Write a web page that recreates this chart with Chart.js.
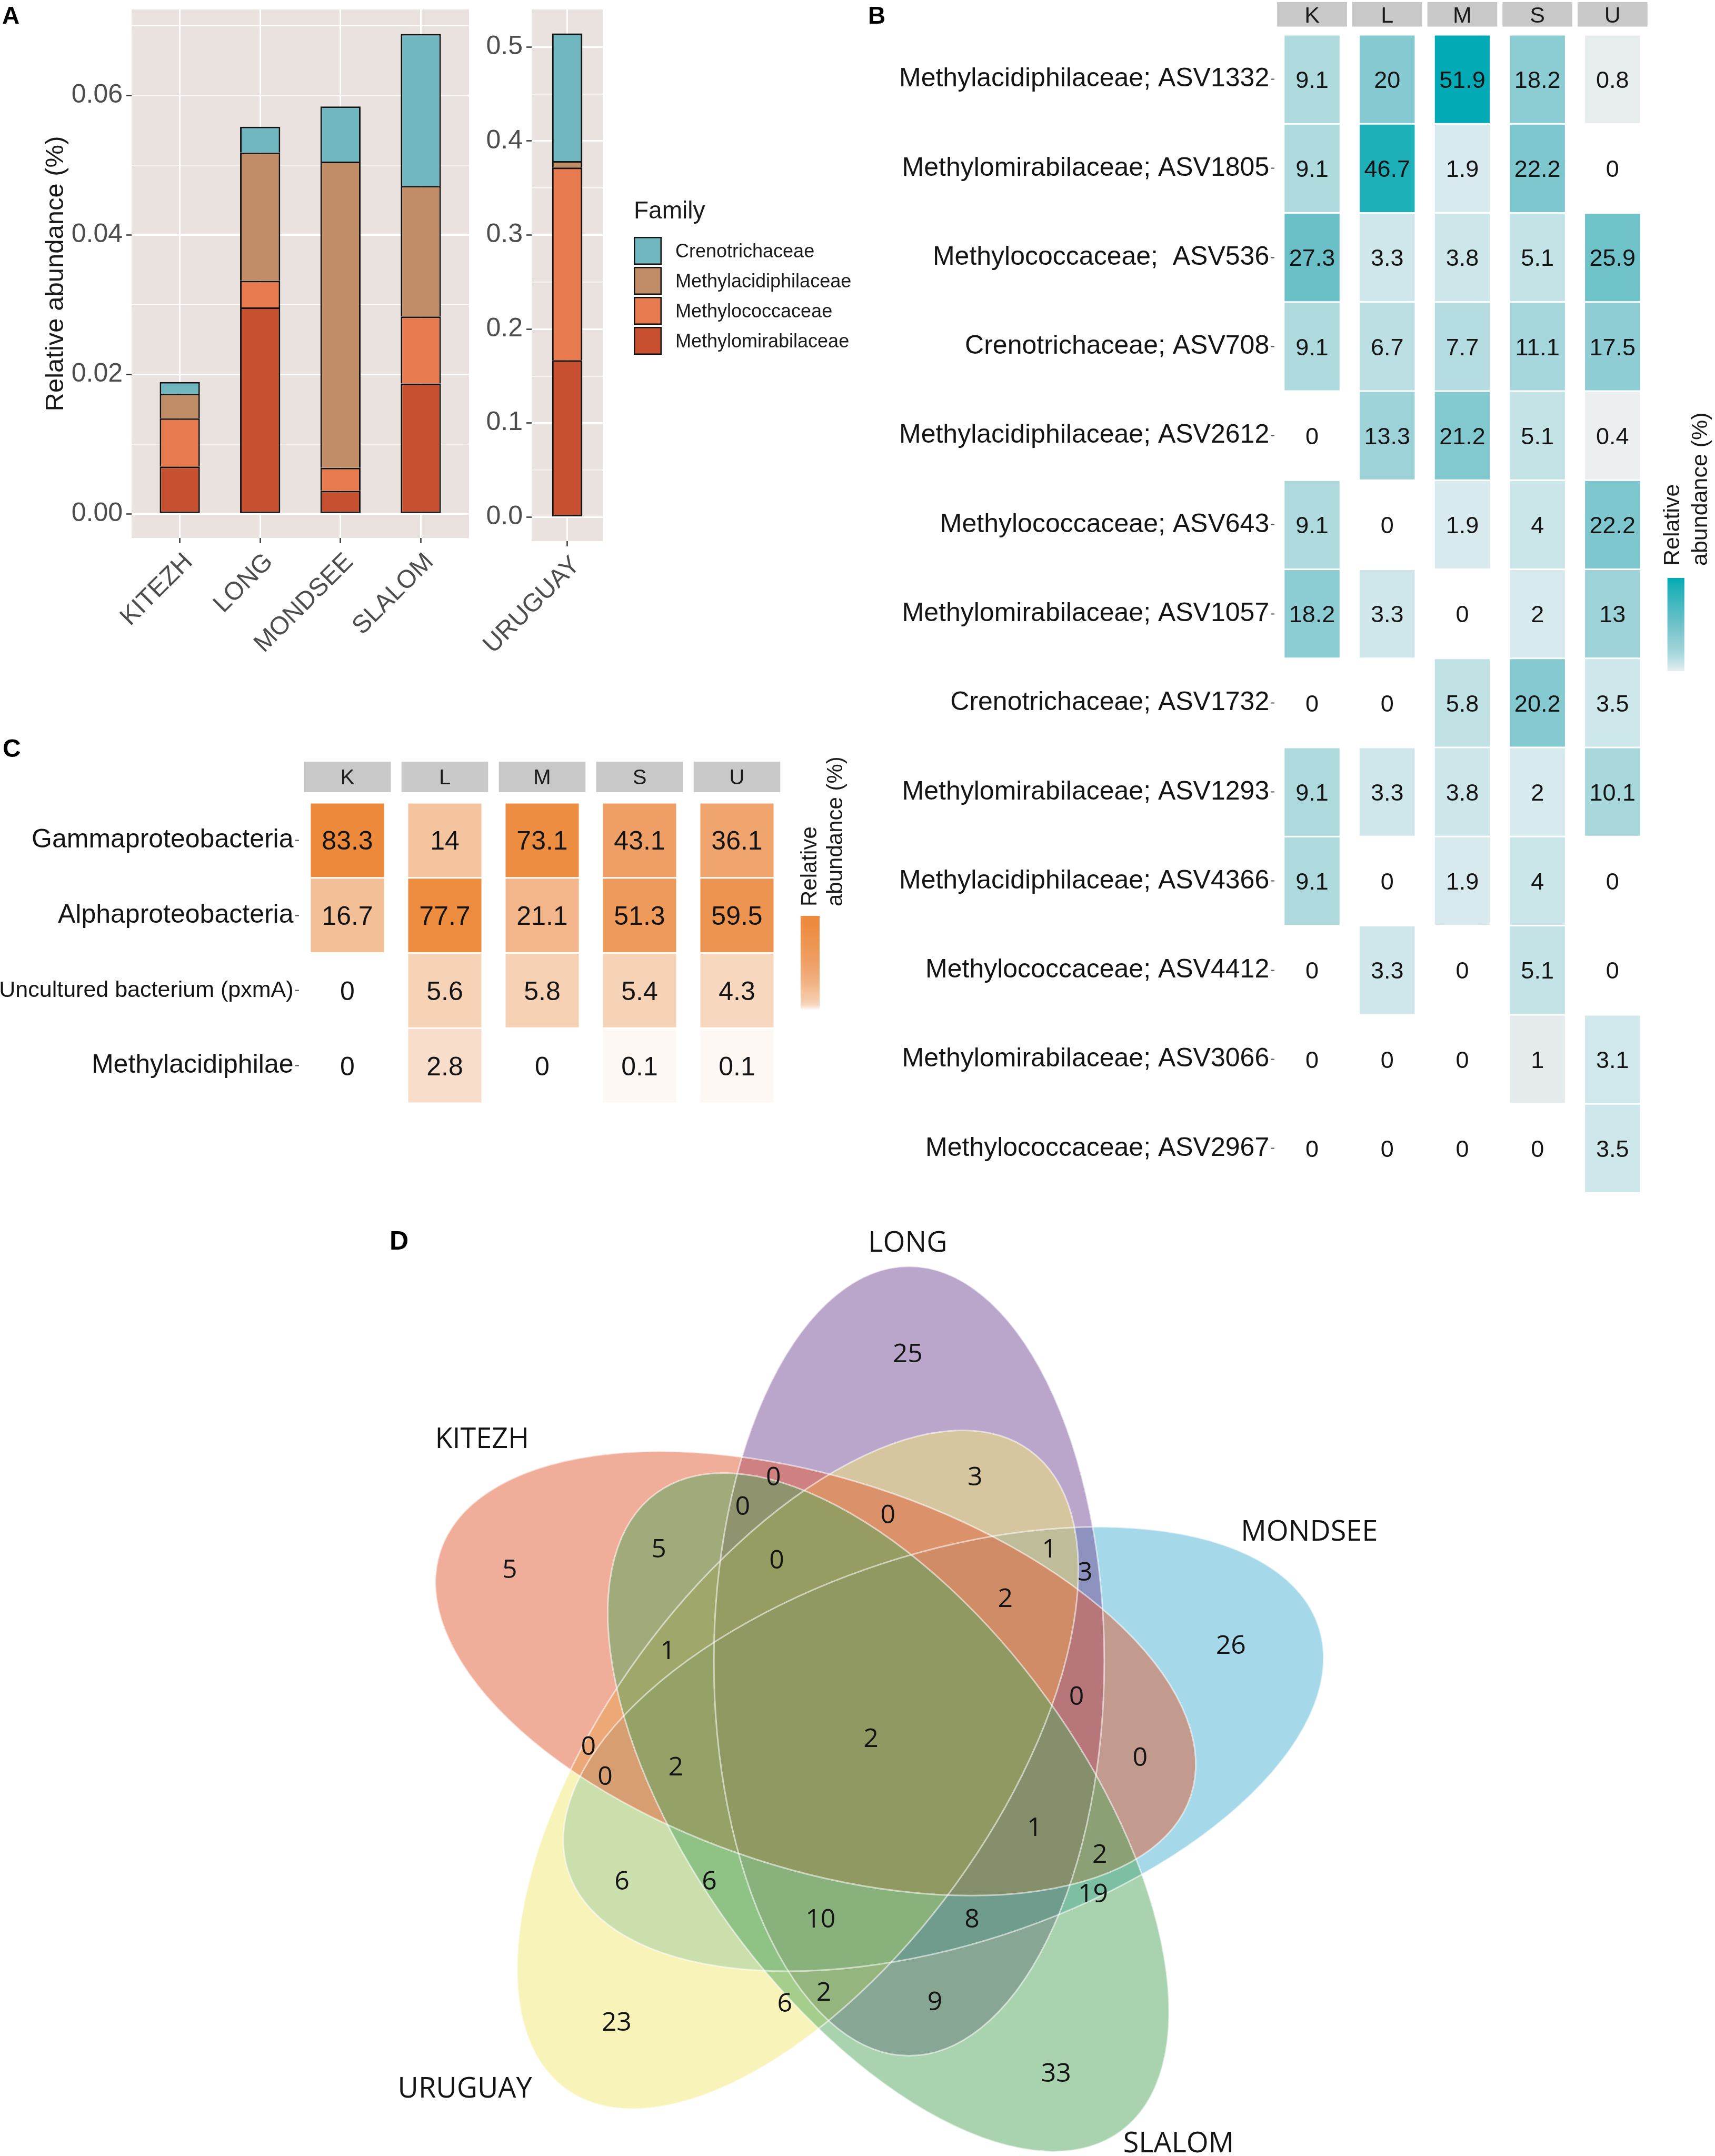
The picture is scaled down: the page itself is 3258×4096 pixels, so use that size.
<!DOCTYPE html>
<html>
<head>
<meta charset="utf-8">
<title>Methanotroph communities in five lakes</title>
<script src="https://cdn.jsdelivr.net/npm/chart.js@4.4.1/dist/chart.umd.min.js"></script>
<style>
  html, body { margin: 0; padding: 0; background: #ffffff; }
  body { position: relative; width: 3258px; height: 4096px; overflow: hidden; }
  canvas { position: absolute; }
</style>
</head>
<body>
<canvas id="barsMain" width="900" height="1290" style="left:0px;top:0px"></canvas>
<canvas id="barsUruguay" width="740" height="1290" style="left:900px;top:0px"></canvas>
<canvas id="heatAsv" width="1658" height="2300" style="left:1600px;top:0px"></canvas>
<canvas id="heatClass" width="1650" height="760" style="left:0px;top:1380px"></canvas>
<canvas id="venn" width="3258" height="1797" style="left:0px;top:2299px"></canvas>
<script>
const FONT = '"Liberation Sans", Arial, Helvetica, sans-serif';
const VENN_FONT = '"Open Sans", "Noto Sans", sans-serif';

// --- Panel A: relative abundance of methanotroph families per lake ---
const sites = ['KITEZH', 'LONG', 'MONDSEE', 'SLALOM', 'URUGUAY'];
const families = ['Crenotrichaceae', 'Methylacidiphilaceae', 'Methylococcaceae', 'Methylomirabilaceae'];
const crenotrichaceae = [0.0017, 0.0037, 0.0079, 0.0218, 0.1358];
const methylacidiphilaceae = [0.0035, 0.0184, 0.0439, 0.0187, 0.0069];
const methylococcaceae = [0.0069, 0.0038, 0.0033, 0.0096, 0.2049];
const methylomirabilaceae = [0.0068, 0.0296, 0.0033, 0.0187, 0.1667];
const lakeTicks = [0, 0.02, 0.04, 0.06];
const lakeTickLabels = ['0.00', '0.02', '0.04', '0.06'];
const uruguayTicks = [0, 0.1, 0.2, 0.3, 0.4, 0.5];
const uruguayTickLabels = ['0.0', '0.1', '0.2', '0.3', '0.4', '0.5'];

// --- Panel B: top ASVs, % per lake ---
const lakeCodes = ['K', 'L', 'M', 'S', 'U'];
const asvNames = [
  'Methylacidiphilaceae; ASV1332',
  'Methylomirabilaceae; ASV1805',
  'Methylococcaceae;  ASV536',
  'Crenotrichaceae; ASV708',
  'Methylacidiphilaceae; ASV2612',
  'Methylococcaceae; ASV643',
  'Methylomirabilaceae; ASV1057',
  'Crenotrichaceae; ASV1732',
  'Methylomirabilaceae; ASV1293',
  'Methylacidiphilaceae; ASV4366',
  'Methylococcaceae; ASV4412',
  'Methylomirabilaceae; ASV3066',
  'Methylococcaceae; ASV2967'
];
const asvAbundance = [
  [9.1, 20, 51.9, 18.2, 0.8],
  [9.1, 46.7, 1.9, 22.2, 0],
  [27.3, 3.3, 3.8, 5.1, 25.9],
  [9.1, 6.7, 7.7, 11.1, 17.5],
  [0, 13.3, 21.2, 5.1, 0.4],
  [9.1, 0, 1.9, 4, 22.2],
  [18.2, 3.3, 0, 2, 13],
  [0, 0, 5.8, 20.2, 3.5],
  [9.1, 3.3, 3.8, 2, 10.1],
  [9.1, 0, 1.9, 4, 0],
  [0, 3.3, 0, 5.1, 0],
  [0, 0, 0, 1, 3.1],
  [0, 0, 0, 0, 3.5]
];

// --- Panel C: pmoA classes, % per lake ---
const classNames = ['Gammaproteobacteria', 'Alphaproteobacteria', 'Uncultured bacterium (pxmA)', 'Methylacidiphilae'];
const classAbundance = [
  [83.3, 14, 73.1, 43.1, 36.1],
  [16.7, 77.7, 21.1, 51.3, 59.5],
  [0, 5.6, 5.8, 5.4, 4.3],
  [0, 2.8, 0, 0.1, 0.1]
];

// --- Panel D: shared ASVs (Venn region counts) ---
const vennSets = ['KITEZH', 'LONG', 'MONDSEE', 'SLALOM', 'URUGUAY'];
const vennCounts = [25, 0, 3, 0, 0, 5, 5, 0, 1, 3, 2, 26, 1, 0, 2, 0, 0, 2, 0, 1, 2, 6, 6, 19, 10, 8, 2, 6, 9, 23, 33];

// --- styling / layout ---
const familyColors = {
  Crenotrichaceae: '#71b7bf',
  Methylacidiphilaceae: '#c18d66',
  Methylococcaceae: '#e87a50',
  Methylomirabilaceae: '#c6502f'
};
const tealStops = [[0, '#f1f2f3'], [1, '#e5eaec'], [2, '#d7eaed'], [4, '#cbe6e9'], [8, '#b3dce0'],
  [12, '#a0d4d9'], [20, '#86cad1'], [27, '#6cc0c8'], [47, '#1db0b8'], [52, '#00aab4']];
const orangeStops = [[0, '#ffffff'], [0.1, '#fef8f4'], [3, '#f8dcc7'], [6, '#f6d0b3'], [15, '#f4c29c'],
  [21, '#f2b68a'], [36, '#f0a46e'], [51, '#ee9a5a'], [60, '#ee9450'], [73, '#ed8d42'], [84, '#ec893a']];

// venn geometry in its own layout units (1 unit = 2.6127 px)
const vennAxes = { a: 287, b: 142 };
const vennShapes = {
  KITEZH:  { cx: 593, cy: 1217, angle: 162,  fill: 'rgba(225, 93, 53, 0.5)' },
  LONG:    { cx: 661, cy: 1208, angle: 90,   fill: 'rgba(119, 77, 151, 0.5)' },
  MONDSEE: { cx: 686, cy: 1272, angle: 18,   fill: 'rgba(75, 177, 209, 0.5)' },
  SLALOM:  { cx: 646, cy: 1318, angle: -54,  fill: 'rgba(83, 167, 93, 0.5)' },
  URUGUAY: { cx: 580, cy: 1287, angle: -126, fill: 'rgba(241, 231, 115, 0.5)' }
};
const vennDrawOrder = ['MONDSEE', 'LONG', 'URUGUAY', 'KITEZH', 'SLALOM'];
const vennNameSpots = { KITEZH: [350.5, 1045.6], LONG: [660, 903], MONDSEE: [952, 1113], SLALOM: [857, 1558], URUGUAY: [338, 1518] };
const vennSpots = [
  [660, 984], [562.4, 1073.5], [709, 1073.5], [540, 1095], [645.6, 1100.8], [479, 1126],
  [370.6, 1140.6], [564.8, 1133.8], [763, 1126], [789, 1142.8], [731, 1162], [895, 1196],
  [485.5, 1199.6], [782.7, 1233], [633.3, 1263.5], [427.8, 1269.3], [829, 1277.4], [491.4, 1284.3],
  [440, 1291.2], [752.2, 1328.2], [799.7, 1347.8], [452.2, 1367.4], [515.8, 1367.4], [794.8, 1376.7],
  [596.6, 1395.1], [706.8, 1395.1], [599, 1448.2], [570.6, 1456.3], [679.8, 1455.2], [448.3, 1470.2],
  [767.9, 1507.1]
];

Chart.defaults.font.family = FONT;
Chart.defaults.color = '#1a1a1a';

// --- helpers ---
function hexRgb(h) {
  const n = parseInt(h.slice(1), 16);
  return [(n >> 16) & 255, (n >> 8) & 255, n & 255];
}

function ramp(stops, v) {
  let i = 1;
  while (i < stops.length - 1 && v > stops[i][0]) i++;
  const [v0, c0] = stops[i - 1];
  const [v1, c1] = stops[i];
  const t = Math.max(0, Math.min(1, (v - v0) / (v1 - v0)));
  const a = hexRgb(c0), b = hexRgb(c1);
  return 'rgb(' + a.map((x, k) => Math.round(x + (b[k] - x) * t)).join(',') + ')';
}
const tealColor = v => ramp(tealStops, v);
const orangeColor = v => ramp(orangeStops, v);

// --- plugins ---
const panelTag = {
  id: 'panelTag',
  afterDraw(chart, args, o) {
    if (!o || !o.text) return;
    const ctx = chart.ctx;
    ctx.save();
    ctx.fillStyle = '#000000';
    ctx.font = 'bold ' + o.size + 'px ' + FONT;
    ctx.textAlign = 'left';
    ctx.textBaseline = 'alphabetic';
    ctx.fillText(o.text, o.x, o.y);
    ctx.restore();
  }
};
Chart.register(panelTag);

const panelBackground = {
  id: 'panelBackground',
  beforeDraw(chart) {
    const { ctx, chartArea: a } = chart;
    ctx.save();
    ctx.fillStyle = '#eae2de';
    ctx.fillRect(a.left, a.top, a.right - a.left, a.bottom - a.top);
    ctx.restore();
  }
};

function familyLegend(pos) {
  return {
    id: 'familyLegend',
    afterDraw(chart) {
      const ctx = chart.ctx;
      ctx.save();
      ctx.textAlign = 'left';
      ctx.textBaseline = 'alphabetic';
      ctx.fillStyle = '#1a1a1a';
      ctx.font = pos.titleSize + 'px ' + FONT;
      ctx.fillText('Family', pos.x, pos.titleBaseline);
      const items = chart.data.datasets.slice().reverse();
      items.forEach((ds, i) => {
        const y = pos.keyTop + i * pos.keyStep;
        ctx.fillStyle = ds.backgroundColor;
        ctx.fillRect(pos.x, y, pos.key, pos.key);
        ctx.strokeStyle = '#141414';
        ctx.lineWidth = 2.5;
        ctx.strokeRect(pos.x + 1.25, y + 1.25, pos.key - 2.5, pos.key - 2.5);
        ctx.fillStyle = '#1a1a1a';
        ctx.font = pos.labelSize + 'px ' + FONT;
        ctx.fillText(ds.label, pos.labelX, y + pos.key / 2 + 0.358 * pos.labelSize);
      });
      ctx.restore();
    }
  };
}

function stackedBars(canvasId, siteIdx, ticks, tickLabels, yMin, yMax, box) {
  const stackOrder = [
    [families[3], methylomirabilaceae],
    [families[2], methylococcaceae],
    [families[1], methylacidiphilaceae],
    [families[0], crenotrichaceae]
  ];
  const step = ticks[1] - ticks[0];
  const minor = ticks.map(v => v + step / 2).filter(v => v < yMax);
  const isMajor = v => ticks.some(t => Math.abs(t - v) < 1e-9);
  const majorLabel = v => {
    const i = ticks.findIndex(t => Math.abs(t - v) < 1e-9);
    return i < 0 ? '' : tickLabels[i];
  };

  return new Chart(document.getElementById(canvasId), {
    type: 'bar',
    data: {
      datasets: stackOrder.map(([name, values], k) => ({
        label: name,
        data: siteIdx.map((s, i) => ({ x: i + 1, y: values[s] })),
        backgroundColor: familyColors[name],
        borderColor: '#141414',
        borderWidth: { top: 3, left: 3, right: 3, bottom: k === 0 ? 3 : 0 },
        borderSkipped: false,
        categoryPercentage: 1,
        barPercentage: box.barPct,
        barThickness: box.barThickness
      }))
    },
    options: {
      responsive: false,
      animation: false,
      devicePixelRatio: 1,
      layout: { autoPadding: false, padding: { left: 0, right: box.right, top: box.top, bottom: 0 } },
      plugins: {
        legend: { display: false },
        tooltip: { enabled: false },
        panelTag: box.tag || false
      },
      scales: {
        x: {
          type: 'linear',
          stacked: true,
          offset: false,
          min: 0.4,
          max: siteIdx.length + 0.6,
          afterBuildTicks: s => { s.ticks = siteIdx.map((_, i) => ({ value: i + 1 })); },
          afterFit: s => {
            s.height = box.xHeight;
            // rotated labels may hang outside the panel; keep the panel where ggplot put it
            s.paddingLeft = 0;
            s.paddingRight = 0;
          },
          border: { display: false },
          grid: { offset: false, color: '#ffffff', lineWidth: 3, tickLength: 10, tickColor: '#333333', tickWidth: 2.5 },
          ticks: {
            autoSkip: false, minRotation: 45, maxRotation: 45, padding: 8, labelOffset: 17,
            color: '#4d4d4d', font: { size: 48 },
            callback: v => sites[siteIdx[v - 1]]
          }
        },
        y: {
          stacked: true,
          min: yMin,
          max: yMax,
          afterBuildTicks: s => { s.ticks = ticks.concat(minor).sort((a, b) => a - b).map(v => ({ value: v })); },
          afterFit: s => {
            s.width = box.yWidth;
            s.paddingTop = 0;
            s.paddingBottom = 0;
          },
          border: { display: false },
          grid: {
            color: '#ffffff',
            lineWidth: c => (c.tick && isMajor(c.tick.value) ? 3 : 1.5),
            tickLength: 10,
            tickWidth: 2.5,
            tickColor: c => (c.tick && isMajor(c.tick.value) ? '#333333' : 'rgba(0,0,0,0)')
          },
          ticks: { autoSkip: false, padding: 7, color: '#4d4d4d', font: { size: 50 }, callback: v => majorLabel(v) },
          title: box.title
            ? { display: true, text: box.title, color: '#1a1a1a', font: { size: 49, lineHeight: 1.2 }, padding: { top: 77, bottom: 0 } }
            : { display: false }
        }
      }
    },
    plugins: [panelBackground].concat(box.legend ? [familyLegend(box.legend)] : [])
  });
}

function heatDecor(values, colorFn, box) {
  return {
    id: 'heatDecor',
    afterDatasetsDraw(chart) {
      const { ctx, chartArea, scales: { x, y } } = chart;
      ctx.save();
      ctx.textAlign = 'center';
      ctx.textBaseline = 'alphabetic';

      // numbers in the cells
      ctx.fillStyle = '#141414';
      ctx.font = box.valueSize + 'px ' + FONT;
      values.forEach((row, r) => row.forEach((v, c) => {
        ctx.fillText(String(v), x.getPixelForValue(c), y.getPixelForValue(r) + 0.358 * box.valueSize);
      }));

      // facet strips
      const pitch = x.getPixelForValue(1) - x.getPixelForValue(0);
      const w = pitch * box.stripPct;
      const bottom = chartArea.top - box.stripGap;
      const top = bottom - box.stripHeight;
      ctx.font = box.stripSize + 'px ' + FONT;
      lakeCodes.forEach((code, c) => {
        const cx = x.getPixelForValue(c);
        ctx.fillStyle = '#c8c8c8';
        ctx.fillRect(cx - w / 2, top, w, box.stripHeight);
        ctx.fillStyle = '#1a1a1a';
        ctx.fillText(code, cx, (top + bottom) / 2 + 0.358 * box.stripSize);
      });

      // colour bar
      const cb = box.bar;
      const grad = ctx.createLinearGradient(0, cb.y, 0, cb.y + cb.h);
      for (let i = 0; i <= 20; i++) {
        const t = i / 20;
        grad.addColorStop(t, colorFn(cb.max - t * (cb.max - cb.min)));
      }
      ctx.fillStyle = grad;
      ctx.fillRect(cb.x, cb.y, cb.w, cb.h);

      ctx.fillStyle = '#1a1a1a';
      ctx.font = cb.size + 'px ' + FONT;
      ctx.textAlign = 'left';
      ctx.textBaseline = 'middle';
      ['Relative', 'abundance (%)'].forEach((line, i) => {
        ctx.save();
        ctx.translate(cb.titleX[i], cb.titleY);
        ctx.rotate(-Math.PI / 2);
        ctx.fillText(line, 0, 0);
        ctx.restore();
      });
      ctx.restore();
    }
  };
}

function heatmap(canvasId, rowNames, values, colorFn, box) {
  return new Chart(document.getElementById(canvasId), {
    type: 'bar',
    data: {
      labels: lakeCodes,
      datasets: values.map((row, r) => ({
        label: rowNames[r],
        data: row.map(v => (v > 0 ? [r - 0.5, r + 0.5] : null)),
        backgroundColor: row.map(colorFn),
        borderColor: '#ffffff',
        borderWidth: 1.5,
        borderSkipped: false,
        grouped: false,
        categoryPercentage: 1,
        barPercentage: box.cellPct
      }))
    },
    options: {
      responsive: false,
      animation: false,
      devicePixelRatio: 1,
      layout: { autoPadding: false, padding: { left: 0, right: box.right, top: box.top, bottom: box.bottom } },
      plugins: { legend: { display: false }, tooltip: { enabled: false }, panelTag: box.tag },
      scales: {
        x: { display: false },
        y: {
          type: 'linear',
          reverse: true,
          min: -0.5,
          max: rowNames.length - 0.5,
          afterBuildTicks: s => { s.ticks = rowNames.map((_, i) => ({ value: i })); },
          afterFit: s => {
            s.width = box.yWidth;
            s.paddingTop = 0;
            s.paddingBottom = 0;
          },
          border: { display: false },
          grid: { drawOnChartArea: false, tickLength: 7, tickWidth: 2, tickColor: '#4d4d4d' },
          ticks: {
            autoSkip: false,
            padding: 3,
            color: '#141414',
            font: c => ({ family: FONT, size: box.smallRows.includes(c.index) ? box.smallLabel : box.label }),
            callback: v => rowNames[v]
          }
        }
      }
    },
    plugins: [heatDecor(values, colorFn, box)]
  });
}

const vennDecor = {
  id: 'vennDecor',
  beforeDatasetsDraw(chart) {
    const { ctx, scales: { x, y } } = chart;
    const ux = Math.abs(x.getPixelForValue(1) - x.getPixelForValue(0));
    const uy = Math.abs(y.getPixelForValue(1) - y.getPixelForValue(0));
    ctx.save();
    vennDrawOrder.forEach(name => {
      const e = vennShapes[name];
      ctx.beginPath();
      ctx.ellipse(x.getPixelForValue(e.cx), y.getPixelForValue(e.cy), vennAxes.a * ux, vennAxes.b * uy,
        -e.angle * Math.PI / 180, 0, Math.PI * 2);
      ctx.fillStyle = e.fill;
      ctx.fill();
    });
    ctx.strokeStyle = 'rgba(255,255,255,0.55)';
    ctx.lineWidth = 3;
    vennDrawOrder.forEach(name => {
      const e = vennShapes[name];
      ctx.beginPath();
      ctx.ellipse(x.getPixelForValue(e.cx), y.getPixelForValue(e.cy), vennAxes.a * ux, vennAxes.b * uy,
        -e.angle * Math.PI / 180, 0, Math.PI * 2);
      ctx.stroke();
    });
    ctx.restore();
  },
  afterDatasetsDraw(chart) {
    const { ctx, scales: { x, y } } = chart;
    const meta = chart.getDatasetMeta(0);
    ctx.save();
    ctx.fillStyle = '#141414';
    ctx.textAlign = 'center';
    ctx.textBaseline = 'alphabetic';
    ctx.font = '50px ' + VENN_FONT;
    meta.data.forEach((pt, i) => {
      ctx.fillText(String(vennCounts[i]), pt.x, pt.y + 0.357 * 50);
    });
    ctx.font = '54px ' + VENN_FONT;
    vennSets.forEach(name => {
      const [vx, vy] = vennNameSpots[name];
      ctx.fillText(name, x.getPixelForValue(vx), y.getPixelForValue(vy) + 0.357 * 54);
    });
    ctx.restore();
  }
};

// --- build the figure ---
stackedBars('barsMain', [0, 1, 2, 3], lakeTicks, lakeTickLabels, -0.00345, 0.0723, {
  barPct: 0.5, right: 9, top: 18, xHeight: 268, yWidth: 250,
  title: 'Relative abundance (%)',
  tag: { text: 'A', x: 4, y: 45, size: 46 }
});

stackedBars('barsUruguay', [4], uruguayTicks, uruguayTickLabels, -0.0257, 0.54, {
  barPct: 1, barThickness: 57, right: 495, top: 18, xHeight: 262, yWidth: 110,
  legend: { x: 304, titleBaseline: 415, titleSize: 46, keyTop: 450, keyStep: 57, key: 53, labelX: 383, labelSize: 36 }
});

heatmap('heatAsv', asvNames, asvAbundance, tealColor, {
  right: 123.3, top: 66, bottom: 33.6, yWidth: 821.2, cellPct: 0.753,
  label: 50, smallRows: [], smallLabel: 50, valueSize: 45,
  stripPct: 0.93, stripGap: 15.5, stripHeight: 46.6, stripSize: 43,
  bar: { x: 1567.6, y: 1098, w: 32.2, h: 177, min: 0.4, max: 51.9, size: 43, titleX: [1578, 1631.6], titleY: 1075 },
  tag: { text: 'B', x: 49, y: 45, size: 46 }
});

heatmap('heatClass', classNames, classAbundance, orangeColor, {
  right: 157.5, top: 145, bottom: 44, yWidth: 567.5, cellPct: 0.768,
  label: 50, smallRows: [2], smallLabel: 43, valueSize: 50,
  stripPct: 0.89, stripGap: 20, stripHeight: 58, stripSize: 40,
  bar: { x: 1521, y: 360, w: 36, h: 178, min: 0.1, max: 83.3, size: 42, titleX: [1539, 1588], titleY: 342 },
  tag: { text: 'C', x: 5, y: 58, size: 48 }
});

new Chart(document.getElementById('venn'), {
  type: 'scatter',
  data: {
    datasets: [{ label: 'ASVs', data: vennSpots.map(([vx, vy]) => ({ x: vx, y: vy })), pointRadius: 0 }]
  },
  options: {
    responsive: false,
    animation: false,
    devicePixelRatio: 1,
    layout: { autoPadding: false, padding: 0 },
    plugins: {
      legend: { display: false },
      tooltip: { enabled: false },
      panelTag: { text: 'D', x: 740, y: 75, size: 50 }
    },
    scales: {
      x: { type: 'linear', display: false, min: 0, max: 1247 },
      y: { type: 'linear', display: false, min: 880, max: 1568, reverse: true }
    }
  },
  plugins: [vennDecor]
});
</script>
</body>
</html>
